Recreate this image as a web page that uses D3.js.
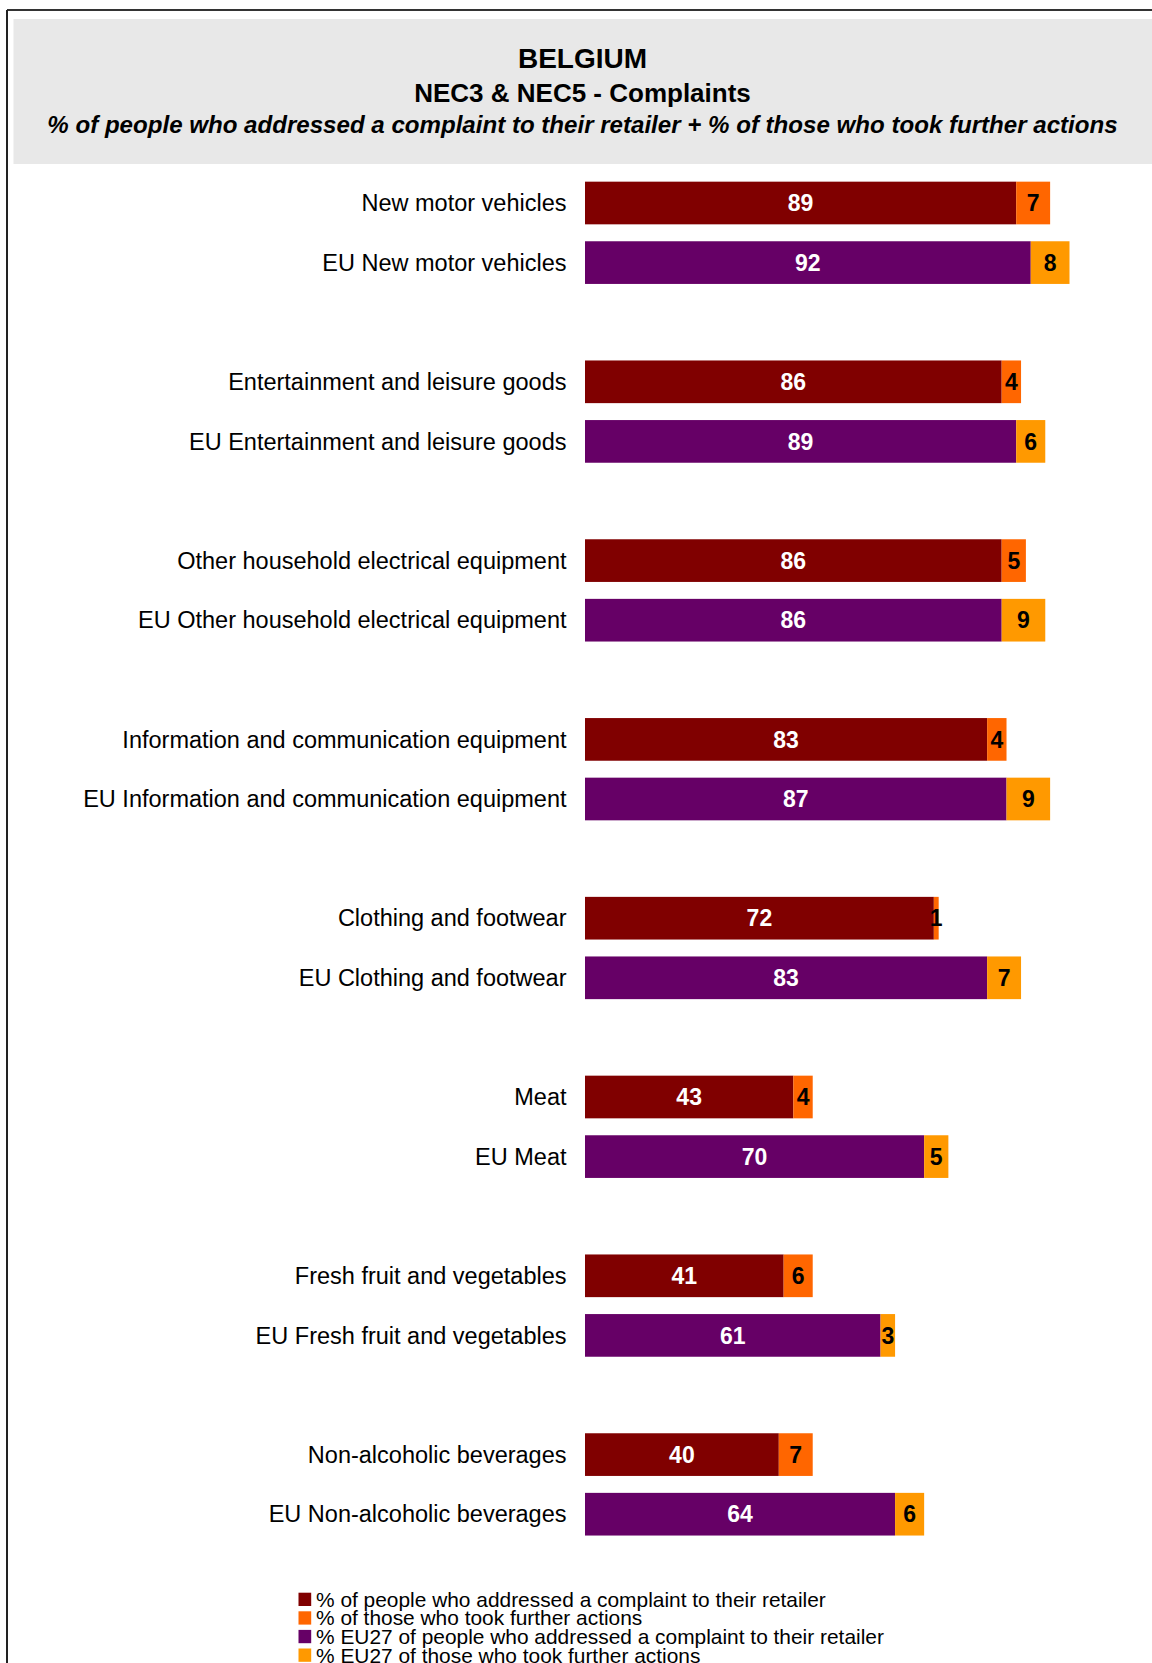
<!DOCTYPE html>
<html>
<head>
<meta charset="utf-8">
<script src="https://cdn.jsdelivr.net/npm/d3@7"></script>
<style>
    body { margin: 0; background: #fff; }
    svg { display: block; font-family: "Liberation Sans", Arial, sans-serif; }
</style>
</head>
<body>
<div id="draw"></div>
<script>
const categories = [
    'New motor vehicles',
    'Entertainment and leisure goods',
    'Other household electrical equipment',
    'Information and communication equipment',
    'Clothing and footwear',
    'Meat',
    'Fresh fruit and vegetables',
    'Non-alcoholic beverages'
];
const beAddressed = [89, 86, 86, 83, 72, 43, 41, 40];
const beFurther = [7, 4, 5, 4, 1, 4, 6, 7];
const euAddressed = [92, 89, 86, 87, 83, 70, 61, 64];
const euFurther = [8, 6, 9, 9, 7, 5, 3, 6];
const legendLabels = [
    '% of people who addressed a complaint to their retailer',
    '% of those who took further actions',
    '% EU27 of people who addressed a complaint to their retailer',
    '% EU27 of those who took further actions'
];
const titleLines = [
    'BELGIUM',
    'NEC3 & NEC5 - Complaints',
    '% of people who addressed a complaint to their retailer + % of those who took further actions'
];

let width = 1152,
    height = 1663;

let colors = ['#800000', '#ff6600', '#660066', '#ff9900'];

// rows: two bars per category, then an empty slot as gap
let rows = [], keys = [];
categories.forEach((c, i) => {
    rows.push({ key: 'be' + i, label: c, a: beAddressed[i], f: beFurther[i], ca: colors[0], cf: colors[1] });
    rows.push({ key: 'eu' + i, label: 'EU ' + c, a: euAddressed[i], f: euFurther[i], ca: colors[2], cf: colors[3] });
    keys.push('be' + i, 'eu' + i);
    if (i < categories.length - 1) keys.push('gap' + i);
});

let svg = d3.select('#draw')
    .append('svg')
    .attr('width', width)
    .attr('height', height);

// frame + header
svg.append('line').attr('x1', 7).attr('x2', width).attr('y1', 10).attr('y2', 10)
    .attr('stroke', '#333').attr('stroke-width', 2);
svg.append('line').attr('x1', 7).attr('x2', 7).attr('y1', 10).attr('y2', height)
    .attr('stroke', '#222').attr('stroke-width', 2);
svg.append('rect').attr('x', 13.5).attr('y', 19).attr('width', width - 13.5).attr('height', 145)
    .attr('fill', '#e8e8e8');

let titleY = [67.5, 101.5, 132.5],
    titleSize = [28, 26, 24.1];
svg.selectAll('text.title')
    .data(titleLines)
    .enter()
    .append('text')
    .attr('class', 'title')
    .attr('x', 582.5)
    .attr('y', (d, i) => titleY[i])
    .attr('text-anchor', 'middle')
    .attr('font-weight', 'bold')
    .attr('font-style', (d, i) => i == 2 ? 'italic' : 'normal')
    .attr('font-size', (d, i) => titleSize[i])
    .attr('fill', '#000')
    .text(d => d);

let xScale = d3.scaleLinear().domain([0, 100]).range([585, 1069.5]);
let yScale = d3.scaleBand().domain(keys).range([173.2, 1544]).paddingInner(0.284).paddingOuter(0.142);

let g = svg.append('g');

let row = g.selectAll('g.row')
    .data(rows)
    .enter()
    .append('g')
    .attr('class', 'row')
    .attr('transform', d => 'translate(0,' + yScale(d.key) + ')');

let bh = yScale.bandwidth();

row.append('text')
    .attr('x', 566.5)
    .attr('y', bh / 2)
    .attr('dy', '0.35em')
    .attr('text-anchor', 'end')
    .attr('font-size', 23.5)
    .attr('fill', '#000')
    .text(d => d.label);

row.append('rect')
    .attr('x', xScale(0))
    .attr('y', 0)
    .attr('width', d => xScale(d.a) - xScale(0))
    .attr('height', bh)
    .attr('fill', d => d.ca);

row.append('rect')
    .attr('x', d => xScale(d.a))
    .attr('y', 0)
    .attr('width', d => xScale(d.a + d.f) - xScale(d.a))
    .attr('height', bh)
    .attr('fill', d => d.cf);

row.append('text')
    .attr('x', d => xScale(d.a / 2))
    .attr('y', bh / 2)
    .attr('dy', '0.36em')
    .attr('text-anchor', 'middle')
    .attr('font-weight', 'bold')
    .attr('font-size', 23)
    .attr('fill', '#fff')
    .text(d => d.a);

row.append('text')
    .attr('x', d => xScale(d.a + d.f / 2))
    .attr('y', bh / 2)
    .attr('dy', '0.36em')
    .attr('text-anchor', 'middle')
    .attr('font-weight', 'bold')
    .attr('font-size', 23)
    .attr('fill', '#000')
    .text(d => d.f);

// legend
let legend = svg.append('g')
    .selectAll('g')
    .data(legendLabels)
    .enter()
    .append('g')
    .attr('transform', (d, i) => 'translate(298.5,' + (1592.7 + i * 18.6) + ')');

legend.append('rect')
    .attr('width', 12.7)
    .attr('height', 13.3)
    .attr('fill', (d, i) => colors[i]);

legend.append('text')
    .attr('x', 17.5)
    .attr('y', 14)
    .attr('font-size', 20.9)
    .attr('fill', '#000')
    .text(d => d);
</script>
</body>
</html>
